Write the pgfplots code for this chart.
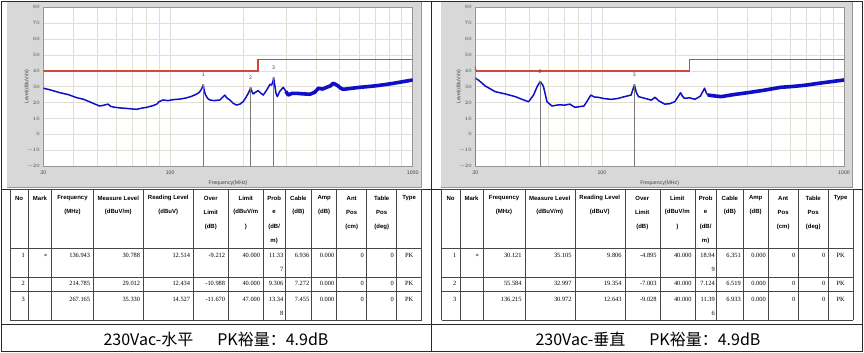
\documentclass[border=0pt]{standalone}
\usepackage{pgfplots}
\pgfplotsset{compat=1.18}
\usepackage{pgfplotstable}
\usepackage{fontspec}
\setmainfont{Liberation Serif}
\newfontfamily\sansf{Liberation Sans}
\newfontfamily\cjk{Noto Sans CJK SC}
\definecolor{gridc}{RGB}{226,222,212}
\definecolor{panelc}{RGB}{216,216,216}
\definecolor{panelb}{RGB}{150,150,150}
\definecolor{tracec}{RGB}{15,15,200}
\definecolor{tickc}{RGB}{70,70,70}
\definecolor{markc}{RGB}{120,120,120}
\definecolor{framec}{RGB}{40,40,40}
\definecolor{tabc}{RGB}{70,70,70}

\newcommand{\tfont}{\sansf\fontsize{5.2}{6}\selectfont}
\newcommand{\hfont}{\sansf\bfseries\fontsize{6}{6}\selectfont}
\newcommand{\dfont}{\fontsize{6.4}{7}\selectfont}

\pgfplotstableread{
f v
30 29.0
32 28.0
35.1 26.2
38 25.0
41.1 23.1
44 22.0
46.5 20.5
49 19.0
51.2 17.8
53 18.2
55.4 19.0
57 17.5
59.2 17.0
62 16.6
66.2 16.3
69 16.0
72.8 15.7
76 16.4
80.1 17.0
84 17.8
88 18.9
90 20.5
93.4 21.6
98 21.2
102.7 21.8
110 22.2
116.6 22.9
122 23.8
128.3 25.2
132 26.5
134.5 28.3
136.9 30.8
138.5 27
140 24.7
143 22.5
145.8 21.6
152 21.2
160.3 21.6
165 23.5
168 24.7
171 23
176.2 21.6
182 19.5
188 18.4
194 19
199.9 20.5
205 23
210 25.8
214.8 29.0
218 26.5
220 25.4
225 26.5
230.7 27.5
236 26.0
242 24.7
248 27
254 29.6
258 31.5
262 31.0
265 33
267.2 35.3
270 31
273 26
276.6 23.7
283 27
292.7 29.6
300 27
306.9 24.7
318 25.8
332.4 25.8
350 25.5
377 25.2
395 26.5
408.6 29.0
425 28.5
442 29.6
458 30.5
470 32.1
480 31.5
493 30.4
505 29
517 28.3
550 28.8
606 29.6
650 30
710 30.6
770 31.3
832 32.1
900 33
950 33.6
1000 34.2
}\leftdata
\pgfplotstableread{
f v
300 27
306.9 24.7
318 25.8
332.4 25.8
350 25.5
377 25.2
395 26.5
408.6 29.0
425 28.5
442 29.6
458 30.5
470 32.1
480 31.5
493 30.4
505 29
517 28.3
550 28.8
606 29.6
650 30
710 30.6
770 31.3
832 32.1
900 33
950 33.6
1000 34.2
}\leftdatahi
\pgfplotstableread{
f v
30 35.3
31 34
33 30.4
36.3 26.8
39.9 25.4
43.9 23.7
47.5 21.6
49.8 20.5
52.2 24.7
54 30
55.6 33.2
57 31
57.6 29
59.3 20.5
62.2 17.8
66 18.5
70.4 18.4
73.7 19.0
77.3 17.0
80 17.3
84.3 17.8
87 21
90 24.7
93 23.5
96.4 23.3
102 22.5
109.1 22.0
116 22.5
124 23.7
132 24.7
136.2 31.0
139 26
141.7 23.7
150.8 22.6
160 21.5
165.6 23.3
172 21
181.7 19.0
190 19.2
200 20.5
206 23.5
211.4 26.2
215 24
219.6 22.6
230 23
242 22.0
255 24
265.5 29.0
270 26
274 24.7
290 24.2
310.6 23.7
350 25
400 26.2
470 27.8
548 29.6
600 30
642 30.4
700 31
752 31.7
850 32.8
1000 34.2
}\rightdata
\pgfplotstableread{
f v
274 24.7
290 24.2
310.6 23.7
350 25
400 26.2
470 27.8
548 29.6
600 30
642 30.4
700 31
752 31.7
850 32.8
1000 34.2
}\rightdatahi
\pgfplotstableread{
f v
30 40
230 40
230 47
1000 47
}\limitdata
\pgfplotstableread{
f v lab
136.943 30.788 1
214.785 29.012 2
267.165 35.330 3
}\leftmk
\pgfplotstableread{
f v lab
30.121 35.105 1
55.584 32.997 2
136.215 30.972 3
}\rightmk

\newcommand{\tabgrid}[1]{%
  \foreach \x in {10,28.3,51.7,93.3,143.3,193.3,228.3,263.3,285,311.7,336.7,366.7,396.7,421.5}
    \draw[tabc, line width=0.6pt] ({#1+\x},189.3) -- ({#1+\x},320.3);
  \foreach \y in {189.3,248,277.5,291.7,320.3}
    \draw[tabc, line width=0.6pt] ({#1+10},\y) -- ({#1+421.5},\y);
  \foreach \xx/\yy/\txt in {19.15/198/No, 40/198/Mark, 72.5/198/Frequency, 72.5/212.3/(MHz),
     118.3/198/Measure Level, 118.3/212.3/{(dBuV/m)}, 168.3/198/Reading Level, 168.3/212.3/(dBuV),
     210.8/198/Over, 210.8/212.3/Limit, 210.8/226.7/(dB),
     245.8/198/Limit, 245.8/212.3/{(dBuV/m}, 245.8/226.7/),
     274.15/198/Prob, 274.15/212.3/e, 274.15/226.7/{(dB/}, 274.15/241/m),
     298.35/198/Cable, 298.35/212.3/(dB), 324.2/198/Amp, 324.2/212.3/(dB),
     351.7/198/Ant, 351.7/212.3/Pos, 351.7/226.7/(cm),
     381.7/198/Table, 381.7/212.3/Pos, 381.7/226.7/(deg), 409.1/198/Type}
    \node[font=\hfont, inner sep=0pt, anchor=center] at ({#1+\xx},\yy) {\txt};
}
\newcommand{\rc}[4]{\node[anchor=east, inner sep=0pt, font=\dfont] at ({#1+#2},{#3}) {#4};}
\newcommand{\cc}[4]{\node[anchor=center, inner sep=0pt, font=\dfont] at ({#1+#2},{#3}) {#4};}
\newcommand{\tabrow}[9]{%
  \rc{#1}{25}{#2}{#3}\rc{#1}{47.5}{#2+1}{#4}\rc{#1}{90.3}{#2}{#5}\rc{#1}{140.3}{#2}{#6}%
  \rc{#1}{190.3}{#2}{#7}\rc{#1}{225.3}{#2}{#8}\rc{#1}{260.3}{#2}{#9}}
\newcommand{\tabrowb}[6]{%
  \rc{#1}{283.5}{#2}{#3}\rc{#1}{309.5}{#2}{#4}\rc{#1}{334.5}{#2}{0.000}%
  \rc{#1}{364}{#2}{#5}\rc{#1}{394}{#2}{#5}\cc{#1}{409.1}{#2}{#6}}

\pgfplotsset{
  markerlabels/.style={only marks, mark=x, mark size=1.6pt, color=markc,
    point meta=explicit symbolic, nodes near coords,
    nodes near coords style={font=\tfont, text=tickc, anchor=south, yshift=5pt}},
  limitline/.style={draw={rgb,255:red,210;green,70;blue,60}, line width=1.6pt, mark=none},
}

\begin{document}
\begin{tikzpicture}
\path[use as bounding box, fill=white] (0pt,0pt) rectangle (864pt,353pt);
\begin{scope}[x=1pt, y=1pt, yshift=353pt, yscale=-1]
  \fill[panelc] (7,2) rectangle (421,187);
  \draw[panelb, line width=0.6pt] (421,2) -- (421,187) -- (7,187);
  \fill[panelc] (441,2) rectangle (852,187);
  \draw[panelb, line width=0.6pt] (852,2) -- (852,187) -- (441,187);
\end{scope}

\begin{axis}[
  xmode=log, scale only axis, width=369.4pt, height=158.7pt,
  at={(43.3pt,187pt)}, anchor=south west,
  xmin=30, xmax=1000, ymin=-20, ymax=80,
  xtick={30,100,1000}, xticklabels={30,100,1000},
  minor xtick={40,50,60,70,80,90,200,300,400,500,600,700,800,900},
  ytick={-20,-10,...,80},
  grid=both,
  major grid style={draw=gridc, line width=0.5pt},
  minor grid style={draw=gridc, line width=0.5pt},
  major tick length=0pt, minor tick length=0pt,
  tick label style={font=\tfont, text=tickc},
  xticklabel style={yshift=-1.5pt},
  axis line style={draw=panelb, line width=0.5pt},
  axis background/.style={fill=white},
  xlabel={Frequency(MHz)}, ylabel={Level(dBuV/m)},
  label style={font=\tfont, text=tickc},
  xlabel style={at={(axis description cs:0.5,-0.107)}, anchor=center},
  ylabel style={at={(axis description cs:-0.044,0.5)}, anchor=center},
]
  \addplot[tracec, line width=1.5pt, line join=round] table[x=f,y=v] {\leftdata};
  \addplot[tracec, line width=3.6pt, line join=round] table[x=f,y=v] {\leftdatahi};
  \addplot[limitline] table[x=f,y=v] {\limitdata};
  \addplot[markc, line width=0.7pt] coordinates {(136.943,-20) (136.943,30.788)};
  \addplot[markc, line width=0.7pt] coordinates {(214.785,-20) (214.785,29.012)};
  \addplot[markc, line width=0.7pt] coordinates {(267.165,-20) (267.165,35.330)};
  \addplot[markerlabels] table[x=f,y=v,meta=lab] {\leftmk};
\end{axis}

\begin{axis}[
  xmode=log, scale only axis, width=368.7pt, height=158.7pt,
  at={(475.3pt,187pt)}, anchor=south west,
  xmin=30, xmax=1000, ymin=-20, ymax=80,
  xtick={30,100,1000}, xticklabels={30,100,1000},
  minor xtick={40,50,60,70,80,90,200,300,400,500,600,700,800,900},
  ytick={-20,-10,...,80},
  grid=both,
  major grid style={draw=gridc, line width=0.5pt},
  minor grid style={draw=gridc, line width=0.5pt},
  major tick length=0pt, minor tick length=0pt,
  tick label style={font=\tfont, text=tickc},
  xticklabel style={yshift=-1.5pt},
  axis line style={draw=panelb, line width=0.5pt},
  axis background/.style={fill=white},
  xlabel={Frequency(MHz)}, ylabel={Level(dBuV/m)},
  label style={font=\tfont, text=tickc},
  xlabel style={at={(axis description cs:0.5,-0.107)}, anchor=center},
  ylabel style={at={(axis description cs:-0.044,0.5)}, anchor=center},
]
  \addplot[tracec, line width=1.5pt, line join=round] table[x=f,y=v] {\rightdata};
  \addplot[tracec, line width=3.6pt, line join=round] table[x=f,y=v] {\rightdatahi};
  \addplot[limitline] table[x=f,y=v] {\limitdata};
  \addplot[markc, line width=0.7pt] coordinates {(30.121,-20) (30.121,35.105)};
  \addplot[markc, line width=0.7pt] coordinates {(55.584,-20) (55.584,32.997)};
  \addplot[markc, line width=0.7pt] coordinates {(136.215,-20) (136.215,30.972)};
  \addplot[markerlabels] table[x=f,y=v,meta=lab] {\rightmk};
\end{axis}

\begin{scope}[x=1pt, y=1pt, yshift=353pt, yscale=-1]
  \draw[framec, line width=0.8pt] (1,1.5) rectangle (862.7,351.7);
  \draw[framec, line width=0.8pt] (431.7,1.5) -- (431.7,351.7);
  \draw[framec, line width=0.8pt] (1,189.3) -- (862.7,189.3);
  \draw[framec, line width=0.8pt] (1,324.5) -- (862.7,324.5);
  \tabgrid{0}
  \tabgrid{431.5}
  \tabrow{0}{255}{1}{*}{136.943}{30.788}{12.514}{-9.212}{40.000}
  \tabrowb{0}{255}{11.33}{6.936}{0}{PK}
  \rc{0}{283.5}{269.3}{7}
  \tabrow{0}{283.5}{2}{}{214.785}{29.012}{12.434}{-10.988}{40.000}
  \tabrowb{0}{283.5}{9.306}{7.272}{0}{PK}
  \tabrow{0}{299.3}{3}{}{267.165}{35.330}{14.527}{-11.670}{47.000}
  \tabrowb{0}{299.3}{13.34}{7.455}{0}{PK}
  \rc{0}{283.5}{313.3}{8}
  \tabrow{431.5}{255}{1}{*}{30.121}{35.105}{9.806}{-4.895}{40.000}
  \tabrowb{431.5}{255}{18.94}{6.351}{0}{PK}
  \rc{431.5}{283.5}{269.3}{9}
  \tabrow{431.5}{283.5}{2}{}{55.584}{32.997}{19.354}{-7.003}{40.000}
  \tabrowb{431.5}{283.5}{7.124}{6.519}{0}{PK}
  \tabrow{431.5}{299.3}{3}{}{136.215}{30.972}{12.643}{-9.028}{40.000}
  \tabrowb{431.5}{299.3}{11.39}{6.933}{0}{PK}
  \rc{431.5}{283.5}{313.3}{6}
  \node[font=\cjk\fontsize{16}{18}\selectfont, inner sep=0pt] at (216,339) {230Vac-水平\hspace{24pt}PK裕量：4.9dB};
  \node[font=\cjk\fontsize{16}{18}\selectfont, inner sep=0pt] at (648,339) {230Vac-垂直\hspace{24pt}PK裕量：4.9dB};
\end{scope}
\end{tikzpicture}
\end{document}
